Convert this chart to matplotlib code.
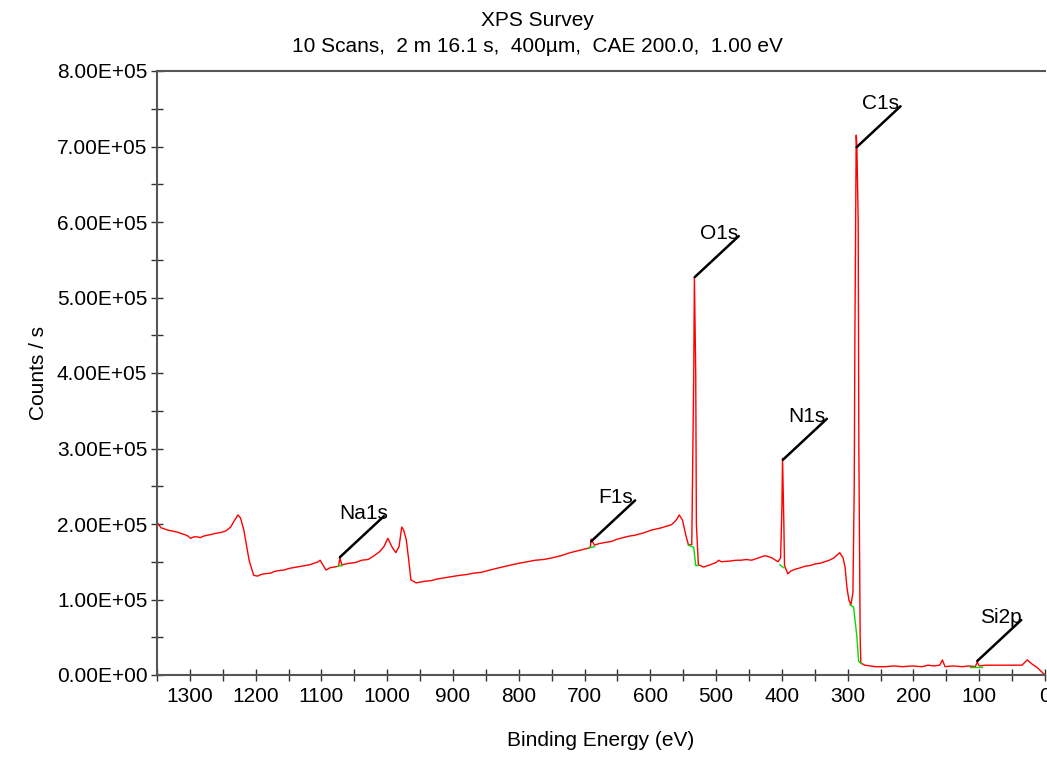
import numpy as np
import matplotlib
matplotlib.use('Agg')
import matplotlib.pyplot as plt
from matplotlib.ticker import MultipleLocator, FuncFormatter

plt.rcParams['font.family'] = ['Liberation Sans', 'DejaVu Sans']

# survey spectrum: (binding energy eV, counts/s)
spectrum = [
    (1349, 2.01e5), (1344, 1.95e5), (1340, 1.94e5), (1334, 1.92e5), (1329, 1.91e5),
    (1323, 1.90e5), (1318, 1.89e5), (1312, 1.87e5), (1308, 1.86e5), (1303, 1.84e5),
    (1299, 1.81e5), (1294, 1.83e5), (1290, 1.83e5), (1284, 1.82e5), (1279, 1.84e5),
    (1274, 1.85e5), (1268, 1.86e5), (1264, 1.87e5), (1258, 1.88e5), (1252, 1.89e5),
    (1245, 1.91e5), (1238, 1.96e5), (1232, 2.05e5), (1227, 2.12e5), (1223, 2.08e5),
    (1218, 1.92e5), (1210, 1.52e5), (1203, 1.32e5), (1197, 1.31e5), (1192, 1.33e5),
    (1187, 1.34e5), (1177, 1.35e5), (1172, 1.37e5), (1167, 1.38e5), (1157, 1.39e5),
    (1150, 1.41e5), (1144, 1.42e5), (1131, 1.44e5), (1124, 1.45e5), (1118, 1.46e5),
    (1111, 1.48e5), (1105, 1.50e5), (1102, 1.52e5), (1098, 1.46e5), (1093, 1.39e5),
    (1087, 1.42e5), (1081, 1.43e5), (1074, 1.44e5), (1072, 1.55e5), (1069, 1.46e5),
    (1058, 1.48e5), (1048, 1.49e5), (1039, 1.52e5), (1029, 1.53e5), (1020, 1.58e5),
    (1012, 1.63e5), (1005, 1.70e5), (999, 1.81e5), (993, 1.70e5), (987, 1.62e5),
    (982, 1.70e5), (978, 1.96e5), (975, 1.92e5), (971, 1.79e5), (967, 1.50e5),
    (964, 1.26e5), (956, 1.22e5), (950, 1.23e5), (944, 1.24e5), (933, 1.25e5),
    (925, 1.27e5), (918, 1.28e5), (910, 1.29e5), (903, 1.30e5), (890, 1.32e5),
    (880, 1.33e5), (868, 1.35e5), (857, 1.36e5), (844, 1.39e5), (830, 1.42e5),
    (815, 1.45e5), (800, 1.48e5), (787, 1.50e5), (775, 1.52e5), (762, 1.53e5),
    (750, 1.55e5), (736, 1.58e5), (722, 1.62e5), (708, 1.65e5), (694, 1.68e5),
    (691, 1.70e5), (690, 1.80e5), (685, 1.72e5), (678, 1.74e5), (672, 1.75e5),
    (665, 1.76e5), (659, 1.77e5), (650, 1.80e5), (641, 1.82e5), (632, 1.84e5),
    (624, 1.85e5), (611, 1.88e5), (598, 1.92e5), (583, 1.95e5), (568, 1.99e5),
    (563, 2.03e5), (560, 2.06e5), (556, 2.12e5), (551, 2.05e5), (546, 1.85e5),
    (542, 1.72e5), (537, 1.73e5), (536, 2.5e5), (534, 4.0e5), (533, 5.27e5),
    (531, 4.0e5), (530, 2.0e5), (527, 1.46e5), (519, 1.43e5), (509, 1.46e5),
    (500, 1.49e5), (496, 1.52e5), (492, 1.50e5), (478, 1.51e5), (470, 1.52e5),
    (462, 1.52e5), (454, 1.53e5), (446, 1.52e5), (436, 1.55e5), (426, 1.58e5),
    (421, 1.57e5), (415, 1.55e5), (406, 1.50e5), (402, 1.55e5), (400, 2.2e5),
    (399, 2.87e5), (397, 2.0e5), (396, 1.45e5), (391, 1.34e5), (386, 1.38e5),
    (380, 1.40e5), (372, 1.42e5), (365, 1.44e5), (357, 1.45e5), (350, 1.47e5),
    (342, 1.48e5), (335, 1.50e5), (328, 1.52e5), (321, 1.55e5), (312, 1.62e5),
    (307, 1.55e5), (304, 1.43e5), (301, 1.15e5), (298, 0.99e5), (295, 0.93e5),
    (292, 1.09e5), (290, 2.5e5), (289, 4.5e5), (287, 7.15e5), (286, 7.0e5),
    (284, 6.0e5), (283, 3.0e5), (281, 0.5e5), (280, 0.16e5), (274, 0.13e5),
    (258, 0.11e5), (243, 0.11e5), (230, 0.12e5), (217, 0.11e5), (202, 0.12e5),
    (187, 0.11e5), (178, 0.13e5), (169, 0.12e5), (160, 0.13e5), (156, 0.2e5),
    (152, 0.11e5), (140, 0.12e5), (126, 0.11e5), (116, 0.12e5), (106, 0.11e5),
    (103, 0.17e5), (100, 0.12e5), (90, 0.13e5), (80, 0.13e5), (60, 0.13e5),
    (45, 0.13e5), (35, 0.13e5), (27, 0.20e5), (19, 0.14e5), (12, 0.10e5),
    (6, 0.05e5), (0, 0.0),
]
be = [p[0] for p in spectrum]
counts = [p[1] for p in spectrum]

# background segments (green) under each fitted peak
bg_segments = [
    ([1075, 1068], [1.44e5, 1.45e5]),
    ([694, 685], [1.68e5, 1.70e5]),
    ([542, 534, 531, 527], [1.72e5, 1.69e5, 1.45e5, 1.45e5]),
    ([403, 397], [1.46e5, 1.42e5]),
    ([296.5, 291, 286, 283.3, 279.3], [0.93e5, 0.90e5, 0.51e5, 0.18e5, 0.15e5]),
    ([114, 95.5], [0.11e5, 0.11e5]),
]

peak_names = ['Na1s', 'F1s', 'O1s', 'N1s', 'C1s', 'Si2p']
peak_be = [1072, 690, 532.5, 398.5, 286.5, 103]
peak_counts = [1.56e5, 1.77e5, 5.27e5, 2.85e5, 6.99e5, 0.185e5]

fig = plt.figure(figsize=(10.47, 7.75), dpi=100)
ax = fig.add_axes([157 / 1047, 100 / 775, 888 / 1047, 604 / 775])

ax.plot(be, counts, color='#ff0000', lw=1.0)
for xs, ys in bg_segments:
    ax.plot(xs, ys, color='#00dd00', lw=1.0)

for name, x, y in zip(peak_names, peak_be, peak_counts):
    ax.annotate('', xy=(x, y), xytext=(44, 41), textcoords='offset pixels',
                arrowprops=dict(arrowstyle='-', color='black', lw=1.8,
                                shrinkA=0, shrinkB=0))
    ax.annotate(name, xy=(x, y), xytext=(24, 34), textcoords='offset pixels',
                ha='center', va='bottom', fontsize=15)

ax.set_xlim(1350, 0)
ax.set_ylim(0, 8e5)
ax.xaxis.set_major_locator(MultipleLocator(100))
ax.xaxis.set_minor_locator(MultipleLocator(50))
ax.yaxis.set_major_locator(MultipleLocator(1e5))
ax.yaxis.set_minor_locator(MultipleLocator(0.5e5))
ax.yaxis.set_major_formatter(FuncFormatter(lambda v, p: f'{v:.2E}'))

ax.spines['right'].set_visible(False)
for s in ['left', 'bottom', 'top']:
    ax.spines[s].set_color('#555555')
    ax.spines[s].set_linewidth(1.5)
ax.tick_params(which='both', direction='inout', length=8, width=1,
               color='#333333', labelsize=15, top=False, right=False)
ax.tick_params(axis='x', pad=5)
ax.tick_params(axis='y', pad=3)

ax.set_xlabel('Binding Energy (eV)', fontsize=15, labelpad=18)
ax.set_ylabel('Counts / s', fontsize=15, labelpad=6)

fig.text(537 / 1047, 1 - 20 / 775, 'XPS Survey', ha='center', va='center', fontsize=15)
fig.text(537 / 1047, 1 - 46 / 775, '10 Scans,  2 m 16.1 s,  400\u00b5m,  CAE 200.0,  1.00 eV',
         ha='center', va='center', fontsize=15)

fig.savefig('out.png', dpi=100)
